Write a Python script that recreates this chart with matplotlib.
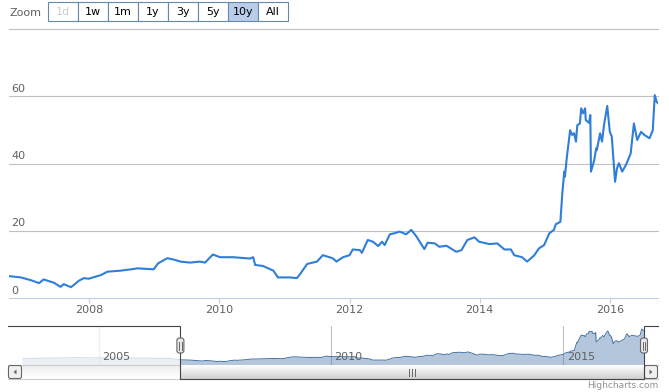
import numpy as np
import matplotlib.pyplot as plt
from matplotlib.colors import LinearSegmentedColormap
from matplotlib.patches import Rectangle, FancyBboxPatch, Polygon

W, H = 669, 392

# price series (decimal year, value)
years = [2006.76, 2006.95, 2007.10, 2007.23, 2007.30, 2007.46, 2007.56, 2007.61, 2007.72,
         2007.76, 2007.84, 2007.92, 2007.99, 2008.18, 2008.28, 2008.48, 2008.68, 2008.74,
         2008.99, 2009.06, 2009.20, 2009.32, 2009.40, 2009.55, 2009.70, 2009.78, 2009.90,
         2010.01, 2010.21, 2010.47, 2010.52, 2010.55, 2010.67, 2010.83, 2010.90, 2011.08,
         2011.19, 2011.23, 2011.35, 2011.50, 2011.59, 2011.74, 2011.80, 2011.90, 2012.00,
         2012.05, 2012.16, 2012.19, 2012.28, 2012.36, 2012.44, 2012.50, 2012.54, 2012.62,
         2012.69, 2012.77, 2012.87, 2012.95, 2013.03, 2013.15, 2013.20, 2013.31, 2013.38,
         2013.49, 2013.64, 2013.72, 2013.81, 2013.92, 2013.99, 2014.15, 2014.27, 2014.38,
         2014.48, 2014.53, 2014.65, 2014.73, 2014.84, 2014.91, 2014.99, 2015.07, 2015.14,
         2015.17, 2015.24, 2015.27, 2015.30, 2015.31, 2015.34, 2015.39, 2015.42, 2015.45,
         2015.48, 2015.50, 2015.54, 2015.56, 2015.59, 2015.62, 2015.63, 2015.68, 2015.70,
         2015.71, 2015.76, 2015.79, 2015.80, 2015.85, 2015.88, 2015.91, 2015.96, 2016.00,
         2016.03, 2016.08, 2016.11, 2016.14, 2016.19, 2016.25, 2016.32, 2016.37, 2016.42,
         2016.48, 2016.53, 2016.61, 2016.66, 2016.69, 2016.72, 2016.74]
values = [6.6, 6.2, 5.4, 4.5, 5.6, 4.6, 3.4, 4.2, 3.3,
          3.9, 5.2, 6.0, 5.8, 6.9, 7.9, 8.2, 8.7, 8.9,
          8.6, 10.4, 11.9, 11.4, 10.9, 10.6, 10.9, 10.6, 13.0,
          12.2, 12.2, 11.8, 12.2, 9.9, 9.6, 8.2, 6.2, 6.2,
          6.0, 6.9, 10.2, 10.9, 12.8, 11.9, 10.9, 12.2, 12.8,
          14.5, 14.3, 13.5, 17.3, 16.8, 15.5, 16.8, 15.8, 19.0,
          19.3, 19.8, 19.0, 20.3, 18.3, 14.6, 16.5, 16.3, 15.3,
          15.6, 13.8, 14.3, 17.3, 18.1, 16.8, 16.1, 16.3, 14.5,
          14.5, 12.8, 12.2, 10.9, 12.8, 14.8, 15.8, 19.3, 20.3,
          22.0, 22.7, 31.2, 37.6, 36.1, 42.0, 49.9, 48.5, 49.0,
          46.5, 51.4, 51.9, 56.4, 54.9, 56.4, 52.9, 52.1, 54.4,
          37.6, 41.0, 44.5, 44.0, 49.0, 46.5, 51.4, 57.1, 49.4,
          48.0, 34.6, 38.6, 40.1, 37.6, 39.7, 43.0, 51.9, 47.0,
          49.4, 48.5, 47.5, 49.9, 60.3, 58.3, 57.9]

# older history only visible in the navigator
early_years = [2003.35, 2003.6, 2004.0, 2004.5, 2005.0, 2005.5, 2006.0, 2006.5, 2006.7]
early_values = [8.5, 9.2, 9.8, 10.3, 10.0, 10.2, 9.6, 9.0, 7.5]

x_ticks = [2008, 2010, 2012, 2014, 2016]
y_ticks = [0, 20, 40, 60, 80]
nav_ticks = [2005, 2010, 2015]
buttons = ['1d', '1w', '1m', '1y', '3y', '5y', '10y', 'All']
selected = '10y'
disabled = ['1d']

line_color = '#2f7ed8'
nav_color = '#4572A7'
label_color = '#606060'


def box(x0, y0, x1, y1):
    return [x0 / W, 1 - y1 / H, (x1 - x0) / W, (y1 - y0) / H]


def vgrad(axis, extent, top, bottom, z):
    cm = LinearSegmentedColormap.from_list('g', [top, bottom])
    axis.imshow(np.linspace(0, 1, 40).reshape(-1, 1), extent=extent, cmap=cm,
                aspect='auto', zorder=z, interpolation='bilinear')


fig = plt.figure(figsize=(W / 100, H / 100), dpi=100)

# main chart
ax = fig.add_axes(box(8.5, 28.8, 658, 298.3))
ax.plot(years, values, color=line_color, lw=1.5, solid_joinstyle='round')
ax.set_xlim(2006.76, 2016.74)
ax.set_ylim(0, 80)
for s in ['top', 'left', 'right']:
    ax.spines[s].set_visible(False)
ax.spines['bottom'].set_color('#C0D0E0')
ax.spines['bottom'].set_linewidth(0.8)
for v in y_ticks[1:]:
    ax.axhline(v, color='#C0C0C0', lw=0.8, clip_on=False, zorder=0)
ax.set_yticks([])
ax.set_xticks(x_ticks)
ax.set_xticklabels([str(t) for t in x_ticks], color=label_color, fontsize=8)
ax.tick_params(axis='x', length=3.6, color='#C0D0E0', pad=1.5)
for v in y_ticks[:-1]:
    ax.annotate(str(v), xy=(0, v), xycoords=('axes fraction', 'data'),
                xytext=(1.8, 1.8), textcoords='offset points',
                ha='left', va='bottom', fontsize=8, color=label_color)

# navigator
nav_l, nav_r, nav_t, nav_b = 22, 644, 325.7, 365
nav = fig.add_axes(box(nav_l, nav_t, nav_r, nav_b))
nx = early_years + years
ny = early_values + values
nav.fill_between(nx, ny, -100, color=nav_color, alpha=0.4, lw=0)
nav.plot(nx, ny, color=nav_color, lw=0.7)
nav_min, nav_max = nx[0], nx[-1]
nav.set_xlim(nav_min, nav_max)
rng = max(ny) - min(ny)
nav.set_ylim(min(ny) - 0.1 * rng, max(ny) + 0.1 * rng)
nav.axis('off')
for t in nav_ticks:
    nav.axvline(t, color='#C0C0C0', lw=0.8, zorder=0)

# overlay for the stock chrome, pixel coordinates
ui = fig.add_axes([0, 0, 1, 1], zorder=5)
ui.axis('off')
ui.patch.set_alpha(0)


def to_px(year):
    return nav_l + (year - nav_min) / (nav_max - nav_min) * (nav_r - nav_l)


lo, hi = to_px(ax.get_xlim()[0]), to_px(ax.get_xlim()[1])

# mask outside selection
ui.add_patch(Rectangle((nav_l, nav_t), lo - nav_l, nav_b - nav_t,
                       color='white', alpha=0.75, lw=0))
ui.add_patch(Rectangle((hi, nav_t), nav_r - hi, nav_b - nav_t,
                       color='white', alpha=0.75, lw=0))

for t in nav_ticks:
    ui.text(to_px(t) + 3.5, 356.5, str(t), ha='left', va='center',
            fontsize=8, color=label_color)

# scrollbar
sb_l, sb_r, sb_t, sb_b = 8, 658, 365, 379
vgrad(ui, (sb_l, sb_r, sb_b, sb_t), '#EEEEEE', '#FFFFFF', 1)
ui.plot([sb_l, sb_r], [sb_t, sb_t], color='#CCCCCC', lw=0.8, zorder=2)
ui.plot([sb_l, sb_r], [sb_b, sb_b], color='#CCCCCC', lw=0.8, zorder=2)
vgrad(ui, (lo, hi, sb_b, sb_t), '#FFFFFF', '#D0D0D0', 2)
cx = (lo + hi) / 2
for dx in (-3, 0, 3):
    ui.plot([cx + dx, cx + dx], [368.5, 375.5], color='#666666', lw=0.7, zorder=4)

for bx, d in ((sb_l, -1), (sb_r - 14, 1)):
    ui.add_patch(FancyBboxPatch((bx + 0.5, sb_t + 0.5), 13, 13,
                                boxstyle='round,pad=0,rounding_size=2',
                                fc='#F0F0F0', ec='#666666', lw=0.8, zorder=4))
    mx, my = bx + 7, (sb_t + sb_b) / 2
    ui.add_patch(Polygon([(mx + 1.5 * d, my), (mx - 1.5 * d, my - 2.5), (mx - 1.5 * d, my + 2.5)],
                         closed=True, fc='#666666', ec='none', zorder=5))

# outline
ui.plot([sb_l, lo, lo, hi, hi, sb_r], [nav_t, nav_t, sb_b, sb_b, nav_t, nav_t],
        color='#444444', lw=0.8, zorder=6, solid_joinstyle='miter')

# handles
for hx in (lo, hi):
    ui.add_patch(FancyBboxPatch((hx - 3.5, 338), 7, 15,
                                boxstyle='round,pad=0,rounding_size=2.5',
                                fc='#EBE7E8', ec='#666666', lw=0.8, zorder=7))
    for dx in (-1.3, 1.3):
        ui.plot([hx + dx, hx + dx], [341.5, 349.5], color='#666666', lw=0.7, zorder=8)

# range selector
ui.text(10, 12.5, 'Zoom', ha='left', va='center', fontsize=8, color='#606060')
bx0, bw, bt, bb = 48, 30, 2, 20.5
for i, b in enumerate(buttons):
    x0 = bx0 + i * bw
    fc = '#B9CDEB' if b == selected else 'white'
    ui.add_patch(Rectangle((x0, bt), bw, bb - bt, fc=fc, ec='#6688AA', lw=0.8))
    ui.text(x0 + bw / 2, (bt + bb) / 2 + 0.5, b, ha='center', va='center', fontsize=8,
            color='#CCCCCC' if b in disabled else '#000000')

ui.text(658, 386, 'Highcharts.com', ha='right', va='center', fontsize=6.5,
        color='#909090')

ui.set_xlim(0, W)
ui.set_ylim(H, 0)

fig.savefig('out.png', dpi=100)
